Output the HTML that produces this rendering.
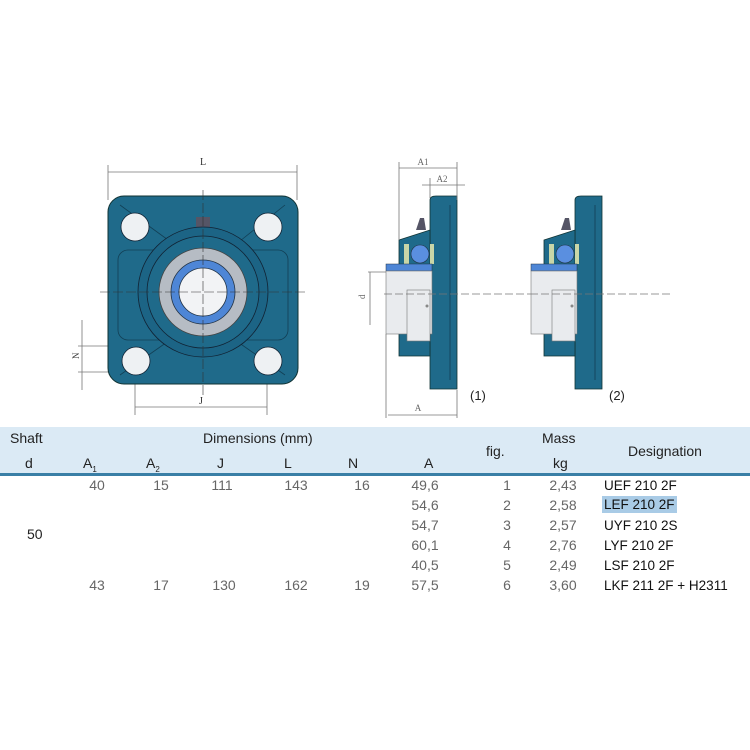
<!DOCTYPE html>
<html><head><style>
body{margin:0;width:750px;height:750px;background:#fff;overflow:hidden;position:relative;font-family:"Liberation Sans",sans-serif}
.t{position:absolute;font-size:14px;white-space:nowrap}
.h{color:#222}
.v{color:#666;transform:translateX(-50%)}
.dn{color:#111;font-size:13.5px}
</style></head><body>
<svg width="750" height="430" style="position:absolute;left:0;top:0" font-family="Liberation Serif,serif">
<g stroke="#777" stroke-width="0.8" fill="none">
<line x1="108" y1="165" x2="108" y2="200"/><line x1="297" y1="165" x2="297" y2="200"/>
<line x1="108" y1="172" x2="297" y2="172"/>
<line x1="135" y1="360" x2="135" y2="415"/><line x1="267" y1="360" x2="267" y2="415"/>
<line x1="135" y1="407" x2="267" y2="407"/>
<line x1="78" y1="346" x2="120" y2="346"/><line x1="78" y1="372" x2="120" y2="372"/>
<line x1="82" y1="320" x2="82" y2="390"/>
</g>
<text x="203" y="165" font-size="10" text-anchor="middle" fill="#333">L</text>
<text x="201" y="404" font-size="10" text-anchor="middle" fill="#333">J</text>
<text x="76" y="362" font-size="9" fill="#333" transform="rotate(-90 76 359)">N</text>
<!-- front body -->
<rect x="108" y="196" width="190" height="188" rx="16" fill="#1f6a8a" stroke="#133"/>
<g stroke="#123f55" stroke-width="0.8" fill="none">
<path d="M120 205 L175 245 M285 205 L235 245 M120 375 L170 340 M285 375 L235 340"/>
<rect x="118" y="250" width="170" height="90" rx="10"/>
</g>
<g fill="#eef1f3" stroke="#123" stroke-width="0.8">
<circle cx="135" cy="227" r="14"/><circle cx="268" cy="227" r="14"/>
<circle cx="136" cy="361" r="14"/><circle cx="268" cy="361" r="14"/>
</g>
<rect x="196" y="217" width="14" height="14" fill="#556" />
<circle cx="203" cy="292" r="65" fill="#1c6485" stroke="#123" stroke-width="0.8"/>
<circle cx="203" cy="292" r="56" fill="#1f6a8a" stroke="#123" stroke-width="0.8"/>
<circle cx="203" cy="292" r="44" fill="#b6bcc4" stroke="#444" stroke-width="0.8"/>
<circle cx="203" cy="292" r="32" fill="#4e86d6" stroke="#234" stroke-width="0.8"/>
<circle cx="203" cy="292" r="24" fill="#f2f3f5" stroke="#234" stroke-width="0.8"/>
<g stroke="#333" stroke-width="0.6"><line x1="100" y1="292" x2="305" y2="292" stroke-dasharray="10 3"/><line x1="203" y1="190" x2="203" y2="395" stroke-dasharray="10 3"/></g>
<!-- side view 1 & 2 -->
<g id="sv">
<path d="M430 200 q0 -4 6 -4 h21 v193 h-27 z" fill="#1f6a8a" stroke="#133" stroke-width="0.8"/>
<path d="M399 240 l31 -10 v126 h-31 z" fill="#1f6a8a" stroke="#133" stroke-width="0.8"/>
<line x1="450" y1="205" x2="450" y2="380" stroke="#123f55" stroke-width="0.8"/>
<circle cx="420" cy="254" r="9" fill="#5a8fe0" stroke="#234" stroke-width="0.6"/>
<rect x="404" y="244" width="5" height="20" fill="#c9d6a8"/><rect x="430" y="244" width="4" height="20" fill="#c9d6a8"/>
<rect x="386" y="264" width="46" height="7" fill="#4e86d6" stroke="#234" stroke-width="0.5"/>
<rect x="386" y="271" width="46" height="63" fill="#e9ebee" stroke="#777" stroke-width="0.6"/>
<rect x="407" y="290" width="23" height="51" fill="#e9ebee" stroke="#777" stroke-width="0.6"/>
<circle cx="427" cy="306" r="1.5" fill="#888"/>
<path d="M416 230 l4 -12 l4 0 l2 12 z" fill="#556"/>
</g>
<use href="#sv" x="145"/>
<g stroke="#777" stroke-width="0.8" fill="none">
<line x1="399" y1="162" x2="399" y2="240"/><line x1="457" y1="162" x2="457" y2="200"/><line x1="430" y1="178" x2="430" y2="198"/>
<line x1="399" y1="168" x2="457" y2="168"/><line x1="422" y1="185" x2="465" y2="185"/>
<line x1="386" y1="334" x2="386" y2="418"/><line x1="457" y1="390" x2="457" y2="418"/>
<line x1="388" y1="415" x2="457" y2="415"/>
<line x1="368" y1="272" x2="386" y2="272"/><line x1="370" y1="272" x2="370" y2="325"/>
<line x1="384" y1="294" x2="530" y2="294" stroke-dasharray="8 3"/><line x1="530" y1="294" x2="670" y2="294" stroke-dasharray="8 3"/>
</g>
<text x="423" y="165" font-size="9" fill="#666" text-anchor="middle">A1</text>
<text x="442" y="182" font-size="9" fill="#666" text-anchor="middle">A2</text>
<text x="418" y="411" font-size="9" fill="#666" text-anchor="middle">A</text>
<text x="362" y="302" font-size="9" fill="#666" transform="rotate(-90 362 299)">d</text>
<text x="470" y="400" font-size="13" fill="#222" font-family="Liberation Sans,sans-serif">(1)</text>
<text x="609" y="400" font-size="13" fill="#222" font-family="Liberation Sans,sans-serif">(2)</text>
</svg>
<div style="position:absolute;left:0;top:427px;width:750px;height:46px;background:#dbeaf5;border-bottom:3px solid #3a7fa6"></div>
<div class="t h" style="left:10px;top:430px">Shaft</div>
<div class="t h" style="left:203px;top:430px">Dimensions (mm)</div>
<div class="t h" style="left:542px;top:430px">Mass</div>
<div class="t h" style="left:486px;top:443px">fig.</div>
<div class="t h" style="left:628px;top:443px">Designation</div>
<div class="t h" style="left:25px;top:455px">d</div>
<div class="t h" style="left:83px;top:455px">A<sub style="font-size:8px">1</sub></div>
<div class="t h" style="left:146px;top:455px">A<sub style="font-size:8px">2</sub></div>
<div class="t h" style="left:217px;top:455px">J</div>
<div class="t h" style="left:284px;top:455px">L</div>
<div class="t h" style="left:348px;top:455px">N</div>
<div class="t h" style="left:424px;top:455px">A</div>
<div class="t h" style="left:553px;top:455px">kg</div>
<div class="t h" style="left:27px;top:526px">50</div>
<div class="t v" style="left:97px;top:477px">40</div><div class="t v" style="left:161px;top:477px">15</div><div class="t v" style="left:222px;top:477px">111</div><div class="t v" style="left:296px;top:477px">143</div><div class="t v" style="left:362px;top:477px">16</div>
<div class="t v" style="left:97px;top:577px">43</div><div class="t v" style="left:161px;top:577px">17</div><div class="t v" style="left:224px;top:577px">130</div><div class="t v" style="left:296px;top:577px">162</div><div class="t v" style="left:362px;top:577px">19</div>
<div class="t v" style="left:425px;top:477px">49,6</div><div class="t v" style="left:507px;top:477px">1</div><div class="t v" style="left:563px;top:477px">2,43</div>
<div class="t v" style="left:425px;top:497px">54,6</div><div class="t v" style="left:507px;top:497px">2</div><div class="t v" style="left:563px;top:497px">2,58</div>
<div class="t v" style="left:425px;top:517px">54,7</div><div class="t v" style="left:507px;top:517px">3</div><div class="t v" style="left:563px;top:517px">2,57</div>
<div class="t v" style="left:425px;top:537px">60,1</div><div class="t v" style="left:507px;top:537px">4</div><div class="t v" style="left:563px;top:537px">2,76</div>
<div class="t v" style="left:425px;top:557px">40,5</div><div class="t v" style="left:507px;top:557px">5</div><div class="t v" style="left:563px;top:557px">2,49</div>
<div class="t v" style="left:425px;top:577px">57,5</div><div class="t v" style="left:507px;top:577px">6</div><div class="t v" style="left:563px;top:577px">3,60</div>
<div class="t dn" style="left:604px;top:478px">UEF 210 2F</div>
<div class="t dn" style="left:602px;top:496px;background:#a9cbe6;padding:1px 2px">LEF 210 2F</div>
<div class="t dn" style="left:604px;top:518px">UYF 210 2S</div>
<div class="t dn" style="left:604px;top:538px">LYF 210 2F</div>
<div class="t dn" style="left:604px;top:558px">LSF 210 2F</div>
<div class="t dn" style="left:604px;top:578px">LKF 211 2F + H2311</div>
</body></html>
